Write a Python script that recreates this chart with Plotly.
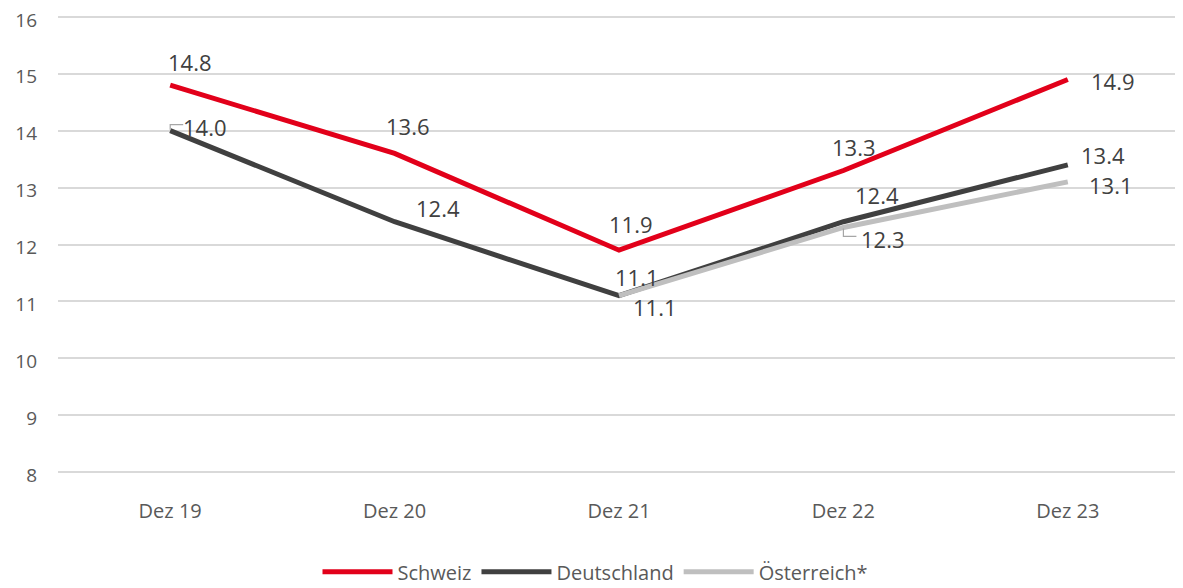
import plotly.graph_objects as go

categories = ["Dez 19", "Dez 20", "Dez 21", "Dez 22", "Dez 23"]
schweiz = [14.8, 13.6, 11.9, 13.3, 14.9]
deutschland = [14.0, 12.4, 11.1, 12.4, 13.4]
oesterreich = [None, None, 11.1, 12.3, 13.1]

# label offsets (pixels) per point: style only
off_ch = [(20, -23), (13, -27), (12, -26), (11, -24), (45, 2)]
off_de = [(35, -4), (43, -14), (18, -19), (34, -27), (35, -10)]
off_at = [None, None, (36, 11), (40, 12), (43, 3)]

RED = "#E2001A"
DARK = "#404040"
GRAY = "#BFBFBF"
TXT = "#595959"
FONT = "Open Sans"

fig = go.Figure()
for name, vals, col in [("Schweiz", schweiz, RED), ("Deutschland", deutschland, DARK), ("Österreich*", oesterreich, GRAY)]:
    fig.add_trace(go.Scatter(x=categories, y=vals, name=name, mode="lines",
                             line=dict(color=col, width=5), connectgaps=False))

annotations = []
for vals, offs in [(schweiz, off_ch), (deutschland, off_de), (oesterreich, off_at)]:
    for c, v, o in zip(categories, vals, offs):
        if v is None:
            continue
        annotations.append(dict(x=c, y=v, text=f"{v:.1f}", showarrow=False,
                                xshift=o[0], yshift=-o[1],
                                font=dict(family=FONT, size=22, color="#404040")))

# leader lines of moved labels (pixel-sized, anchored at the data point)
shapes = [
    dict(type="path", xref="x", yref="y", xsizemode="pixel", ysizemode="pixel",
         xanchor=categories[0], yanchor=deutschland[0], path="M0,1 L0,6 L13,6",
         line=dict(color="#A6A6A6", width=1.2)),
    dict(type="path", xref="x", yref="y", xsizemode="pixel", ysizemode="pixel",
         xanchor=categories[3], yanchor=oesterreich[3], path="M0,-1 L0,-9 L13,-9",
         line=dict(color="#A6A6A6", width=1.2)),
]

# page body has an 8px default margin: figure is sized/shifted to compensate
fig.update_layout(
    width=1175, height=580,
    margin=dict(l=50, r=3, t=6, b=113, autoexpand=False),
    plot_bgcolor="white", paper_bgcolor="white",
    showlegend=True,
    legend=dict(orientation="h", x=0.5, xanchor="center", xref="container",
                y=0.028, yanchor="middle", yref="container",
                font=dict(family=FONT, size=20, color=TXT), itemwidth=70),
    annotations=annotations,
    shapes=shapes,
    font=dict(family=FONT, color=TXT),
)
fig.update_xaxes(range=[-0.5, 4.5], showgrid=False, showline=False, ticks="", automargin=False,
                 tickfont=dict(size=20, color=TXT, family=FONT), ticklabelstandoff=22)
fig.update_yaxes(range=[7.95, 16.05], dtick=1, tick0=8, showgrid=True, gridcolor="#D9D9D9", gridwidth=1.5,
                 zeroline=False, showline=False, tickfont=dict(size=19, color=TXT, family=FONT),
                 ticklabelstandoff=20, ticklabelshift=3, ticklabeloverflow="allow", automargin=False)

fig.write_html("out.html")
